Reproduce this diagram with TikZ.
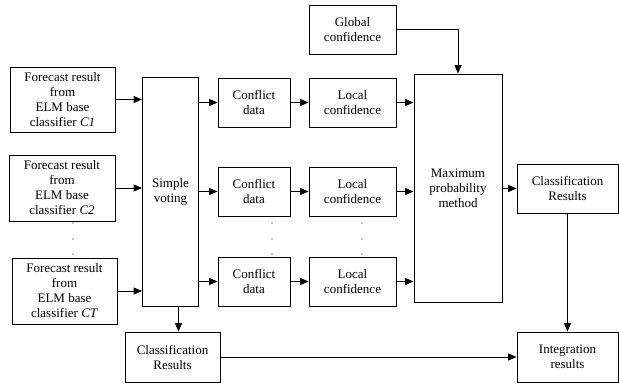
\documentclass[tikz,border=0pt]{standalone}
\usepackage{fontspec}
\setmainfont{Liberation Serif}
\usetikzlibrary{arrows.meta}
\tikzset{
  box/.style={draw, line width=0.8pt, align=center, inner sep=0pt,
    font=\fontsize{13}{15}\selectfont},
  flow/.style={-{Triangle[length=8.5pt,width=7pt]}, line width=0.9pt},
}

\begin{document}
\begin{tikzpicture}[x=1pt,y=-1pt]
  \useasboundingbox (0,0) rectangle (619,384);

  \node [box, minimum width=105, minimum height=65] (fc1) at (62.5,99.5) {Forecast result\\ from\\ ELM base\\ classifier \textit{C1}};
  \node [box, minimum width=106, minimum height=66] (fc2) at (62,188) {Forecast result\\ from\\ ELM base\\ classifier \textit{C2}};
  \node [box, minimum width=105, minimum height=66] (fcT) at (64.5,291) {Forecast result\\ from\\ ELM base\\ classifier \textit{CT}};

  \node [box, minimum width=56, minimum height=229] (vote) at (170.5,191.5) {Simple\\ voting};
  \node [box, minimum width=95, minimum height=50] (res1) at (172.5,357) {Classification\\ Results};

  \node [box, minimum width=72, minimum height=49] (cd1) at (254,102.5) {Conflict\\ data};
  \node [box, minimum width=72, minimum height=49] (cd2) at (254,191.5) {Conflict\\ data};
  \node [box, minimum width=72, minimum height=49] (cd3) at (254,281.5) {Conflict\\ data};

  \node [box, minimum width=87, minimum height=49] (lc1) at (352.5,102.5) {Local\\ confidence};
  \node [box, minimum width=87, minimum height=49] (lc2) at (352.5,191.5) {Local\\ confidence};
  \node [box, minimum width=87, minimum height=49] (lc3) at (352.5,281.5) {Local\\ confidence};
  \node [box, minimum width=87, minimum height=49] (gc) at (352.5,29.5) {Global\\ confidence};

  \node [box, minimum width=88, minimum height=228] (mpm) at (458,188) {Maximum\\ probability\\ method};
  \node [box, minimum width=101, minimum height=49] (res2) at (567.5,188.5) {Classification\\ Results};
  \node [box, minimum width=101, minimum height=50] (ir) at (567.5,357) {Integration\\ results};

  \draw [flow] (fc1.east) -- (fc1.east -| vote.west);
  \draw [flow] (fc2.east) -- (fc2.east -| vote.west);
  \draw [flow] (fcT.east) -- (fcT.east -| vote.west);

  \draw [flow] (cd1.west -| vote.east) -- (cd1.west);
  \draw [flow] (cd2.west -| vote.east) -- (cd2.west);
  \draw [flow] (cd3.west -| vote.east) -- (cd3.west);

  \draw [flow] (cd1) -- (lc1);
  \draw [flow] (cd2) -- (lc2);
  \draw [flow] (cd3) -- (lc3);

  \draw [flow] (lc1.east) -- (lc1.east -| mpm.west);
  \draw [flow] (lc2.east) -- (lc2.east -| mpm.west);
  \draw [flow] (lc3.east) -- (lc3.east -| mpm.west);

  \draw [flow] (gc.east) -| (mpm.north);
  \draw [flow] (mpm.east |- res2.west) -- (res2.west);
  \draw [flow] (res2) -- (ir);
  \draw [flow] ([xshift=8]vote.south) -- ([xshift=8]vote.south |- res1.north);
  \draw [flow] (res1) -- (ir);

  \foreach \y in {223,239,254} {
    \fill (73,\y) circle (0.7);
    \fill (272,\y) circle (0.7);
    \fill (362,\y) circle (0.7);
  }
\end{tikzpicture}
\end{document}
